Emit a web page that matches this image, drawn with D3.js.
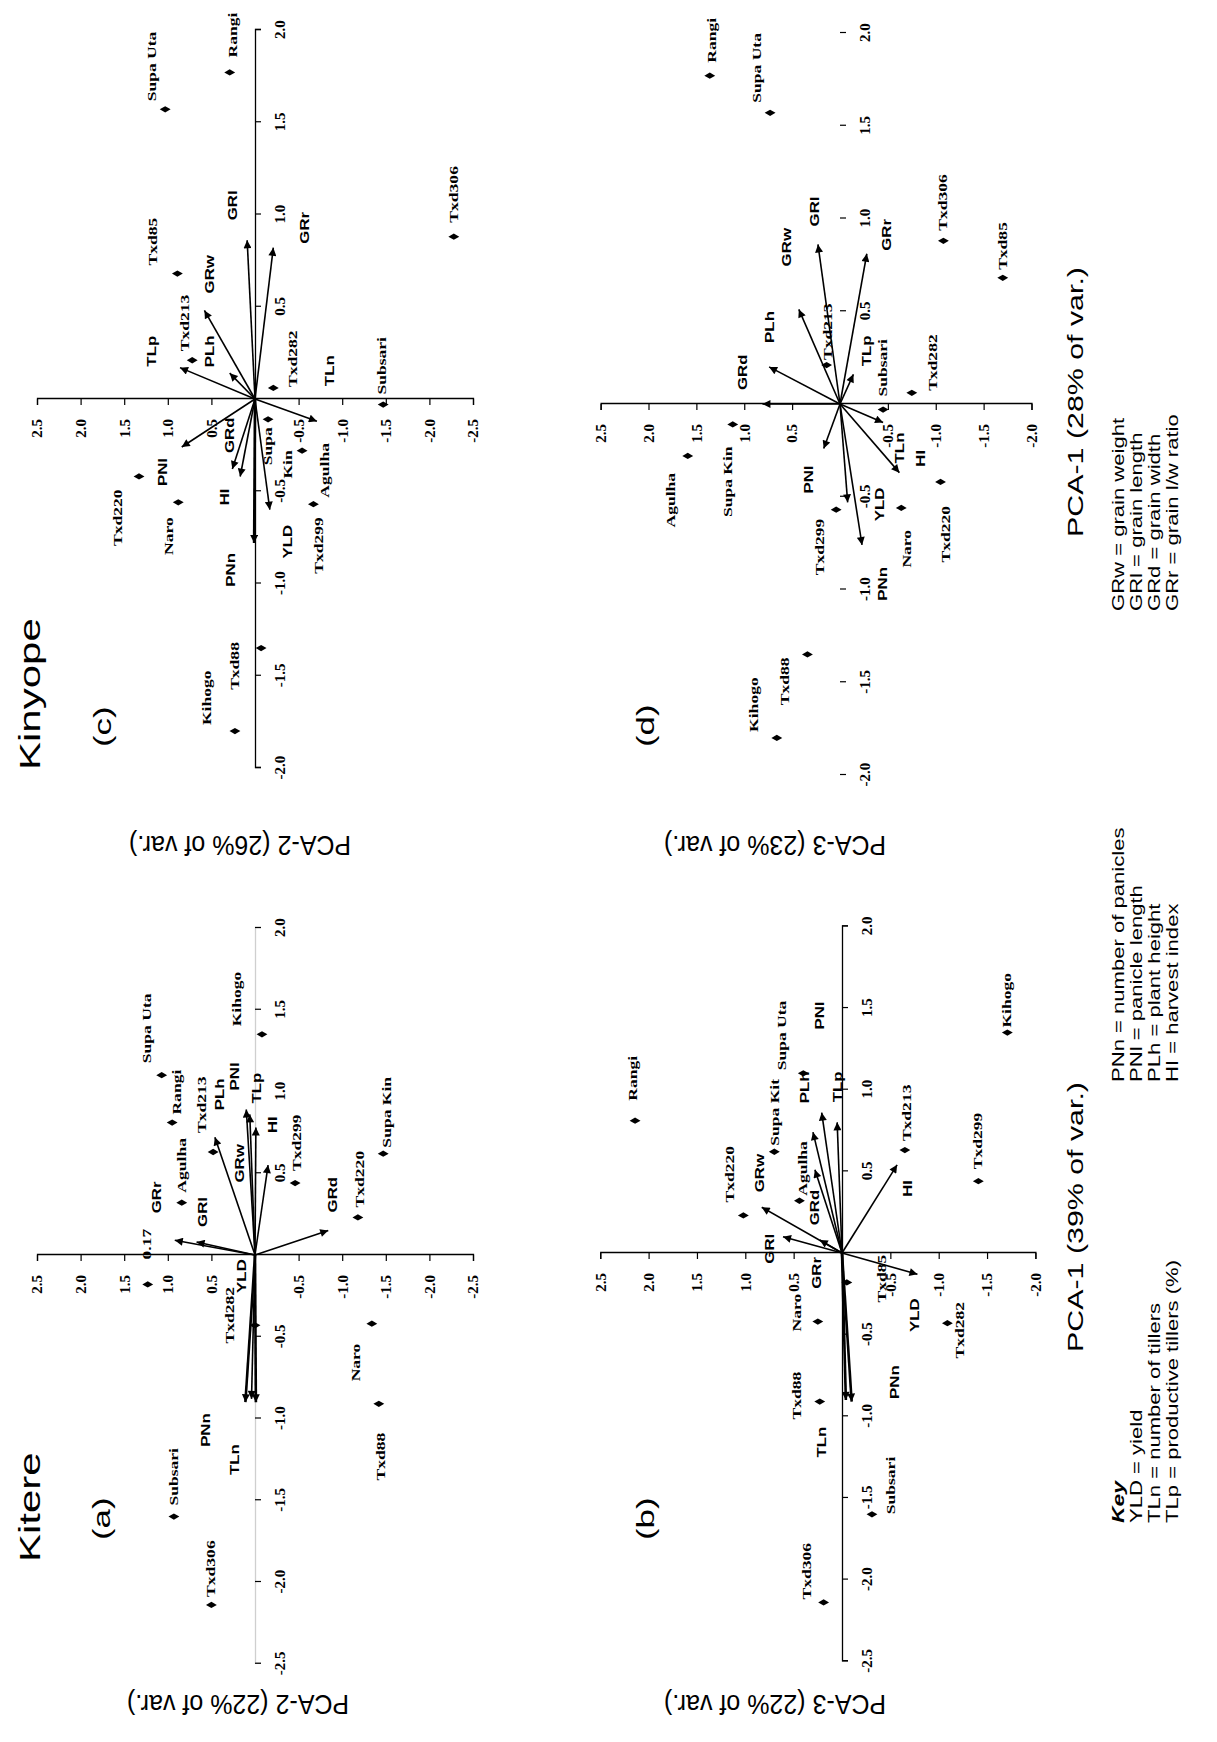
<!DOCTYPE html>
<html><head><meta charset="utf-8">
<script src="https://cdn.jsdelivr.net/npm/d3@7"></script>
<style>body{margin:0;background:#fff}svg{display:block}</style>
</head><body>
<svg id="chart" width="1217" height="1742"></svg>
<script>
// ---------------- DATA ----------------
const genotypes = ["Rangi","Supa Uta","Txd85","Txd213","Txd282","Subsari","Supa Kin","Agulha","Txd299","Txd220","Naro","Txd88","Kihogo","Txd306"];
const traits = ["YLD","TLn","TLp","PNn","PNl","PLh","HI","GRw","GRl","GRd","GRr"];

// genotype scores
const kinyopePC1 = [1.77, 1.57, 0.68, 0.21, 0.06, -0.03, -0.11, -0.28, -0.57, -0.42, -0.56, -1.35, -1.80, 0.88];
const kinyopePC2 = [0.29, 1.03, 0.89, 0.72, -0.21, -1.47, -0.15, -0.54, -0.67, 1.33, 0.88, -0.07, 0.23, -2.28];
const kinyopePC3 = [1.36, 0.73, -1.70, 0.14, -0.75, -0.45, 1.12, 1.59, 0.04, -1.05, -0.64, 0.34, 0.66, -1.08];
const kiterePC1 = [0.81, 1.10, -0.18, 0.63, -0.43, -1.60, 0.62, 0.32, 0.44, 0.23, -0.42, -0.91, 1.35, -2.14];
const kiterePC2 = [0.95, 1.07, 1.23, 0.48, 0.00, 0.93, -1.47, 0.84, -0.46, -1.18, -1.34, -1.42, -0.08, 0.50];
const kiterePC3 = [2.14, 0.40, -0.05, -0.65, -1.09, -0.31, 0.70, 0.44, -1.41, 1.02, 0.25, 0.23, -1.71, 0.19];

// trait loadings as printed in each panel
const cLoadA = [-0.60, -0.12, 0.17, -0.78, -0.26, 0.14, -0.42, 0.48, 0.86, -0.38, 0.82];
const cLoadB = [-0.17, -0.71, 0.86, 0.01, 0.84, 0.29, 0.17, 0.58, 0.09, 0.26, -0.21];
const dLoadA = [-0.53, -0.10, 0.16, -0.76, -0.24, 0.20, -0.37, 0.51, 0.86, 0.00, 0.81];
const dLoadB = [-0.08, -0.45, -0.14, -0.23, 0.17, 0.74, -0.62, 0.43, 0.23, 0.81, -0.28];
const aLoadA = [-0.88, -0.90, 0.78, -0.90, 0.86, 0.72, 0.55, 0.89, 0.08, 0.15, 0.09];
const aLoadB = [0.04, -0.01, -0.01, 0.11, 0.06, 0.46, -0.15, 0.10, 0.67, -0.84, 0.92];
const bLoadA = [-0.13, -0.91, 0.80, -0.90, 0.86, 0.74, 0.54, 0.28, 0.10, 0.51, 0.08];
const bLoadB = [-0.78, -0.10, 0.05, -0.04, 0.21, 0.30, -0.57, 0.83, 0.61, 0.28, 0.23];

// point labels as printed
const cLabels = ["Rangi","Supa Uta","Txd85","Txd213","Txd282","Subsari","Supa|Kin","Agulha","Txd299","Txd220","Naro","Txd88","Kihogo","Txd306"];
const dLabels = genotypes;
const aLabels = ["Rangi","Supa Uta","0.17","Txd213","Txd282","Subsari","Supa Kin","Agulha","Txd299","Txd220","Naro","Txd88","Kihogo","Txd306"];
const bLabels = ["Rangi","Supa Uta","Txd85","Txd213","Txd282","Subsari","Supa Kit","Agulha","Txd299","Txd220","Naro","Txd88","Kihogo","Txd306"];

const siteTitles = ["Kinyope","Kitere"];
const panelLetters = ["(c)","(d)","(a)","(b)"];
const axisTitles1 = ["PCA-1 (28% of var.)","PCA-1 (39% of var.)"];
const axisTitles2 = ["PCA-2 (26% of var.)","PCA-3 (23% of var.)","PCA-2 (22% of var.)","PCA-3 (22% of var.)"];
const keyTitle = "Key";
const keyCol1 = ["YLD = yield","TLn = number of tillers","TLp = productive tillers (%)"];
const keyCol2 = ["PNn = number of panicles","PNl = panicle length","PLh = plant height","HI = harvest index"];
const keyCol3 = ["GRw = grain weight","GRl = grain length","GRd = grain width","GRr = grain l/w ratio"];

// ---------------- LAYOUT (landscape coordinates, page turned) ----------------
const panels = [
  {key:"c", ox:1343, oy:255, k1:184.5, k2:87.2, dom1:[-2,2],   dom2:[-2.5,2.5], line1:"#000", p1:kinyopePC1, p2:kinyopePC2, l1:cLoadA, l2:cLoadB, labels:cLabels},
  {key:"d", ox:1338, oy:840, k1:185.5, k2:95.75,dom1:[-2,2],   dom2:[-2,2.5],   line1:"none", p1:kinyopePC1, p2:kinyopePC3, l1:dLoadA, l2:dLoadB, labels:dLabels},
  {key:"a", ox:487,  oy:255, k1:163.5, k2:87.2, dom1:[-2.5,2], dom2:[-2.5,2.5], line1:"#cfcfcf", p1:kiterePC1, p2:kiterePC2, l1:aLoadA, l2:aLoadB, labels:aLabels},
  {key:"b", ox:489,  oy:842, k1:163.3, k2:96.7, dom1:[-2.5,2], dom2:[-2,2.5],   line1:"#000", p1:kiterePC1, p2:kiterePC3, l1:bLoadA, l2:bLoadB, labels:bLabels}
];
const pointLabelPos = {
  c:[[15,7,"s"],[8,-9,"s"],[8,-20,"s"],[9,-3,"s"],[1,24,"s"],[10,3,"s"],[[-8,4,"e"],[-31,24,"e"]],[-47,27,"s"],[-13,10,"e"],[-13,-17,"e"],[-15,-5,"e"],[6,-22,"e"],[6,-24,"s"],[14,4,"s"]],
  d:[[13,6,"s"],[10,-9,"s"],[8,4,"s"],[5,5,"s"],[2,25,"s"],[13,4,"s"],[-22,-1,"e"],[-17,-13,"e"],[-9,-12,"e"],[-24,9,"e"],[-22,10,"e"],[-3,-18,"e"],[6,-19,"s"],[10,4,"s"]],
  a:[[8,9,"s"],[12,-11,"s"],[25,3,"s"],[19,-7,"s"],[10,-21,"m"],[11,4,"s"],[6,8,"s"],[10,4,"s"],[12,6,"s"],[10,6,"s"],[-20,-12,"e"],[-29,6,"e"],[8,-21,"s"],[8,4,"s"]],
  b:[[20,2,"s"],[3,-17,"s"],[-20,39,"s"],[9,6,"s"],[-7,17,"m"],[0,23,"s"],[6,5,"s"],[5,8,"s"],[12,4,"s"],[13,-9,"s"],[9,-17,"m"],[6,-19,"m"],[5,4,"s"],[3,-13,"s"]]
};
const traitLabelPos = {
  c:[[-15,22,"e"],[35,17,"s"],[1,-24,"s"],[-10,-19,"e"],[-11,-15,"e"],[6,-16,"s"],[-12,-11,"e"],[17,10,"s"],[20,-10,"s"],[16,2,"s"],[4,36,"s"]],
  d:[[-19,36,"s"],[-10,21,"e"],[8,18,"s"],[-22,25,"e"],[-17,-11,"e"],[24,5,"s"],[6,26,"s"],[43,-8,"s"],[18,1,"s"],[14,-15,"s"],[3,24,"s"]],
  a:[[106,-6,"s"],[-42,-17,"e"],[24,5,"s"],[-11,-35,"e"],[24,-11,"s"],[27,9,"s"],[32,9,"s"],[-73,-2,"s"],[15,10,"s"],[18,9,"s"],[27,-14,"s"]],
  b:[[-24,2,"e"],[-25,-26,"e"],[20,5,"s"],[1,53,"s"],[83,2,"s"],[29,-4,"s"],[-32,15,"s"],[15,2,"s"],[-12,-9,"m"],[-20,4,"e"],[-33,1,"m"]]
};
const thick = {c:["PNn"], d:[], a:["PNn","TLn"], b:["PNn","TLn"]};
const anchorMap = {s:"start", e:"end", m:"middle"};
const SERIF = "'Liberation Serif','Times New Roman',serif";
const SANS = "'Liberation Sans',Arial,sans-serif";

// ---------------- DRAW ----------------
const svg = d3.select("#chart");
svg.append("rect").attr("width",1217).attr("height",1742).attr("fill","#fff");
svg.append("defs").append("marker").attr("id","arrow").attr("viewBox","0 0 10 10")
  .attr("refX",10).attr("refY",5).attr("markerWidth",11).attr("markerHeight",8)
  .attr("markerUnits","userSpaceOnUse").attr("orient","auto")
  .append("path").attr("d","M0,0L10,5L0,10Z").attr("fill","#000");

// whole figure is a landscape page turned a quarter turn
const root = svg.append("g").attr("transform","translate(0,1742) rotate(-90)");

function addText(g, str, x, y, o) {
  return g.append("text")
    .attr("transform", `translate(${x},${y}) scale(${o.sx||1},1)`)
    .attr("text-anchor", o.anchor || "start")
    .attr("font-family", o.family || SANS)
    .attr("font-size", o.size || 12)
    .attr("font-weight", o.weight || "normal")
    .attr("font-style", o.style || "normal")
    .attr("fill", "#000")
    .text(str);
}
const fmt = d => d.toFixed(1);
const tickVals = dom => d3.range(Math.round(dom[0]*2), Math.round(dom[1]*2)+1).map(i => i/2).filter(v => v !== 0);

panels.forEach(P => {
  const g = root.append("g");
  const x = d3.scaleLinear().domain(P.dom1).range([P.ox + P.dom1[0]*P.k1, P.ox + P.dom1[1]*P.k1]);
  const y = d3.scaleLinear().domain(P.dom2).range([P.oy - P.dom2[0]*P.k2, P.oy - P.dom2[1]*P.k2]);

  const ax1 = g.append("g").attr("transform", `translate(0,${y(0)})`)
    .call(d3.axisBottom(x).tickValues(tickVals(P.dom1)).tickFormat(fmt).tickSize(6).tickPadding(13));
  const ax2 = g.append("g").attr("transform", `translate(${x(0)},0)`)
    .call(d3.axisLeft(y).tickValues(tickVals(P.dom2)).tickFormat(fmt).tickSize(6).tickPadding(14));
  [ax1, ax2].forEach(a => a.attr("font-family", SERIF).attr("font-size", 15).attr("font-weight","bold"));
  ax1.select(".domain").attr("stroke", P.line1).attr("stroke-width", 1.3);
  ax2.select(".domain").attr("stroke", "#000").attr("stroke-width", 1.3);
  g.selectAll(".tick line").attr("stroke","#000").attr("stroke-width",1.2);

  // trait vectors
  traits.forEach((t, i) => {
    g.append("line")
      .attr("x1", x(0)).attr("y1", y(0))
      .attr("x2", x(P.l1[i])).attr("y2", y(P.l2[i]))
      .attr("stroke","#000")
      .attr("stroke-width", thick[P.key].includes(t) ? 2.6 : 1.6)
      .attr("marker-end","url(#arrow)");
    const lp = traitLabelPos[P.key][i];
    addText(g, t, x(P.l1[i]) + lp[0], y(P.l2[i]) + lp[1],
      {anchor: anchorMap[lp[2]], family: SANS, size: 12.5, weight: "bold", sx: 1.35});
  });

  // genotype points
  const diamond = d3.symbol(d3.symbolDiamond, 34)();
  genotypes.forEach((gname, i) => {
    const px = x(P.p1[i]), py = y(P.p2[i]);
    g.append("path").attr("d", diamond).attr("transform", `translate(${px},${py})`).attr("fill","#000");
    const parts = P.labels[i].split("|");
    let pos = pointLabelPos[P.key][i];
    if (!Array.isArray(pos[0])) pos = [pos];
    parts.forEach((s, j) => {
      const lp = pos[j];
      addText(g, s, px + lp[0], py + lp[1],
        {anchor: anchorMap[lp[2]], family: SERIF, size: 13, weight: "bold", sx: 1.35});
    });
  });
});

// site titles and panel letters
addText(root, siteTitles[0], 972, 40, {size: 30, sx: 1.4});
addText(root, siteTitles[1], 180, 40, {size: 30, sx: 1.4});
[[995,111],[995,654],[202,110],[202,654]].forEach((p, i) =>
  addText(root, panelLetters[i], p[0], p[1], {size: 24, sx: 1.45}));

// axis titles
addText(root, axisTitles1[0], 1340, 1083, {size: 22, sx: 1.38, anchor: "middle"});
addText(root, axisTitles1[1], 525, 1083, {size: 22, sx: 1.38, anchor: "middle"});
[[906,240],[906,775],[47,238],[47,775]].forEach((p, i) =>
  root.append("text")
    .attr("transform", `translate(${p[0]},${p[1]}) rotate(-90) scale(1,1.1)`)
    .attr("text-anchor","middle").attr("font-family", SANS).attr("font-size", 25)
    .text(axisTitles2[i]));

// key
const rows = [1124, 1142, 1160, 1178];
addText(root, keyTitle, 219, rows[0], {size: 17, sx: 1.35, weight: "bold", style: "italic"});
keyCol1.forEach((s, i) => addText(root, s, 219, rows[i+1], {size: 16, sx: 1.38}));
keyCol2.forEach((s, i) => addText(root, s, 660, rows[i], {size: 16, sx: 1.38}));
keyCol3.forEach((s, i) => addText(root, s, 1131, rows[i], {size: 16, sx: 1.38}));
</script>
</body></html>
